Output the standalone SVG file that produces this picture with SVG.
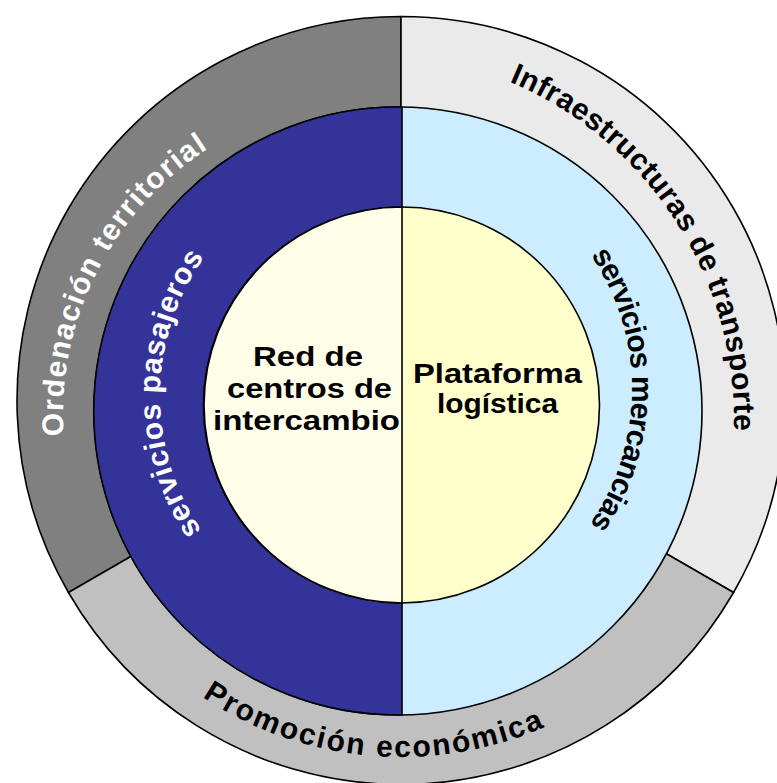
<svg xmlns="http://www.w3.org/2000/svg" width="777" height="783" viewBox="0 0 777 783">
<style>
.ol{stroke:#000;stroke-width:1.6;stroke-linejoin:round}
.ring{font-family:"Liberation Sans",Arial,sans-serif;font-weight:bold;font-size:30px}
.core{font-family:"Liberation Sans",Arial,sans-serif;font-weight:bold;font-size:28px;fill:#000;text-anchor:middle}
.w{fill:#fff}
.b{fill:#000}
</style>
<defs>
<path id="pOrd" d="M 63.7 436.0 A 317 317 0 0 1 246.0 127.7"/>
<path id="pInf" d="M 509.2 81.7 A 367 367 0 0 1 728.4 483.7"/>
<path id="pPro" d="M 202.3 697.0 A 359 359 0 0 0 580.5 708.9"/>
<path id="pPas" d="M 201.6 530.7 A 239 239 0 0 1 230.0 227.0"/>
<path id="pMer" d="M 590.8 255.2 A 238 238 0 0 1 576.3 542.0"/>
</defs>
<rect width="777" height="783" fill="#fff"/>
<g id="ordenacion-territorial">
<path class="ol" fill="#808080" d="M 401 400.5 L 401 16.5 A 384 384 0 0 0 68.45 592.5 Z"/>
<text class="ring w"><textPath href="#pOrd" textLength="337">Ordenación territorial</textPath></text>
</g>
<g id="infraestructuras-transporte">
<path class="ol" fill="#EAEAEA" d="M 401 400.5 L 733.55 592.5 A 384 384 0 0 0 401 16.5 Z"/>
<text class="ring b"><textPath href="#pInf" textLength="441">Infraestructuras de transporte</textPath></text>
</g>
<g id="promocion-economica">
<path class="ol" fill="#C0C0C0" d="M 401 400.5 L 68.45 592.5 A 384 384 0 0 0 733.55 592.5 Z"/>
<text class="ring b"><textPath href="#pPro" textLength="358">Promoción económica</textPath></text>
</g>
<g id="servicios-mercancias">
<circle class="ol" cx="398" cy="411" r="304" fill="#CCECFF"/>
<text class="ring b"><textPath href="#pMer" textLength="286">servicios mercancias</textPath></text>
</g>
<g id="servicios-pasajeros">
<path class="ol" fill="#333399" d="M 402 107.03 A 304 304 0 1 0 402 714.97 Z"/>
<text class="ring w"><textPath href="#pPas" textLength="291">servicios pasajeros</textPath></text>
</g>
<g id="plataforma-logistica">
<circle class="ol" cx="401.5" cy="405" r="198" fill="#FFFFCC"/>
<text class="core"><tspan x="497.5" y="383" textLength="169" lengthAdjust="spacingAndGlyphs">Plataforma</tspan><tspan x="497.5" y="413" textLength="121" lengthAdjust="spacingAndGlyphs">logística</tspan></text>
</g>
<g id="red-centros-intercambio">
<path class="ol" fill="#FFFEE9" d="M 402 207 A 198 198 0 1 0 402 603 Z"/>
<text class="core"><tspan x="308" y="366" textLength="110" lengthAdjust="spacingAndGlyphs">Red de</tspan><tspan x="309.5" y="398" textLength="165" lengthAdjust="spacingAndGlyphs">centros de</tspan><tspan x="306.5" y="430" textLength="187" lengthAdjust="spacingAndGlyphs">intercambio</tspan></text>
</g>
</svg>
